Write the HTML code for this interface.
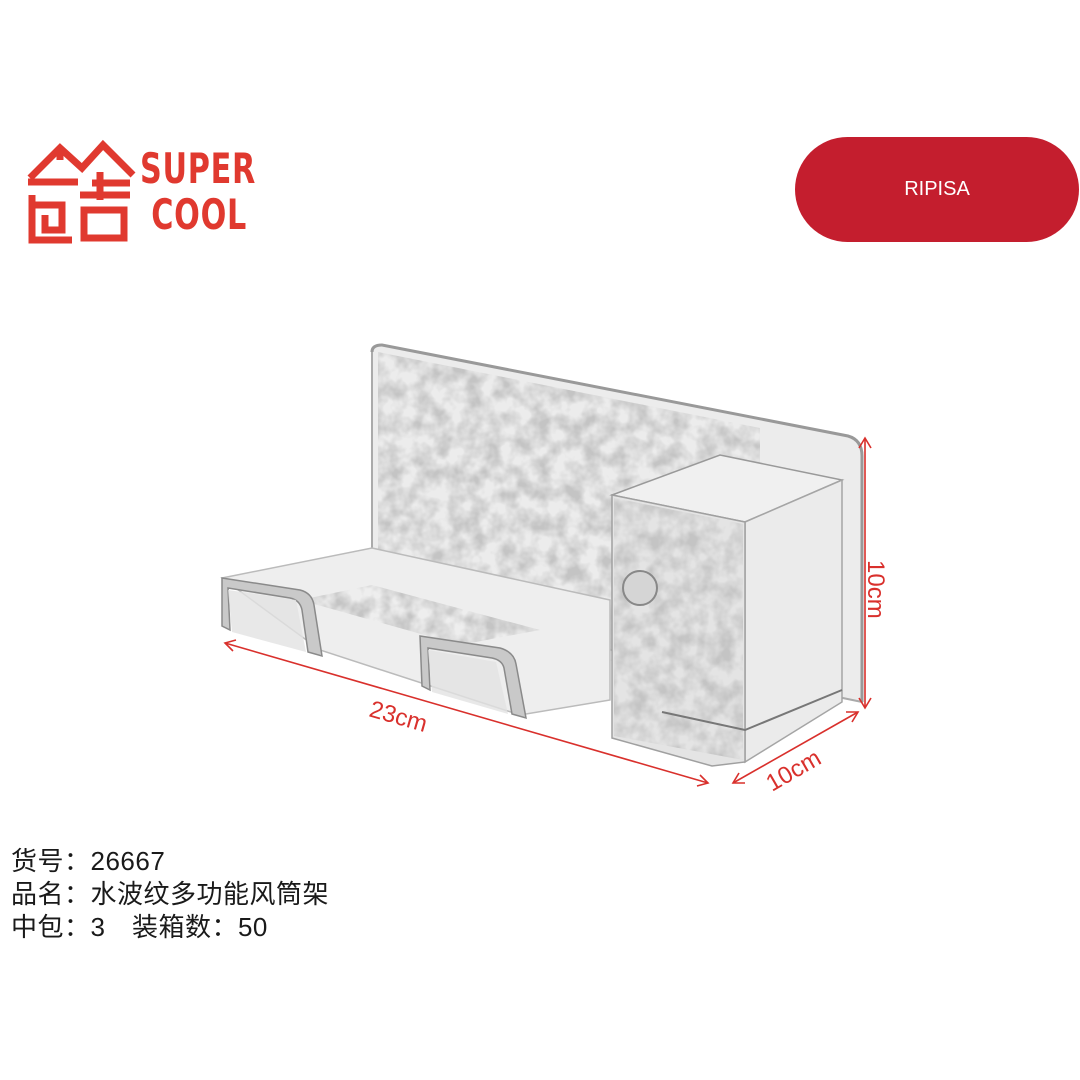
<!DOCTYPE html>
<html><head><meta charset="utf-8"><style>
html,body{margin:0;padding:0;background:#fff}
body{width:1080px;height:1080px;position:relative;overflow:hidden;font-family:"Liberation Sans","Noto Sans CJK SC",sans-serif}
.pill{position:absolute;left:795px;top:137px;width:284px;height:105px;border-radius:53px;background:#c41e2e;color:#fff;font-size:20px;display:flex;align-items:center;justify-content:center}
.info{position:absolute;left:11px;top:845px;font-size:26px;line-height:33px;letter-spacing:0.5px;color:#1a1a1a;font-family:"Liberation Sans","Noto Sans CJK SC",sans-serif}
.logo{position:absolute;left:140px;top:146px;color:#e0392f;font-weight:bold;font-size:42px;line-height:46px;font-family:"DejaVu Sans","Liberation Sans",sans-serif;letter-spacing:1px;transform:scaleX(0.72);transform-origin:left top}
</style></head><body>
<svg width="1080" height="1080" style="position:absolute;left:0;top:0">
<defs>
<filter id="tex" x="0" y="0" width="100%" height="100%">
<feTurbulence type="fractalNoise" baseFrequency="0.06" numOctaves="3" seed="4" result="n"/>
<feColorMatrix type="matrix" values="0 0 0 0 0.55  0 0 0 0 0.55  0 0 0 0 0.55  0 0 0 -2.2 1.5" in="n" result="c"/>
<feComposite in="c" in2="SourceGraphic" operator="in"/>
</filter>
</defs>
<g fill="none" stroke="#e0392f" stroke-width="7" stroke-linejoin="miter">
<path d="M30 178 L60 148 L82 168 L103 145 L133 175"/>
<path d="M60 150 L60 160"/>
<path d="M28 182 L78 182 M92 183 L130 183"/>
<path d="M32 195 L32 240 L72 240 M32 205 L62 205 L62 230 L45 230 L45 215"/>
<path d="M80 195 L130 195 M100 172 L100 200"/>
<path d="M84 210 L124 210 L124 238 L84 238 Z"/>
</g>
<g>
<path d="M372 352 Q372 345 382 345 L848 436 Q862 440 862 456 L862 702 L372 600 Z" fill="#ececec" stroke="#aaa" stroke-width="2"/>
<path d="M378 352 L760 428 L760 700 L378 600 Z" fill="#ddd" filter="url(#tex)"/>
<path d="M372 352 Q372 345 382 345 L848 436 Q862 440 862 456 L862 702" fill="none" stroke="#999" stroke-width="3"/>
<path d="M222 578 L372 548 L610 600 L610 700 L520 715 L320 650 Z" fill="#eeeeee" stroke="#bbb" stroke-width="1.5"/>
<path d="M300 600 L372 585 L540 630 L460 645 Z" fill="#d8d8d8" filter="url(#tex)"/>
<path d="M222 578 L300 590 Q312 593 314 605 L322 656 L308 652 L302 610 Q300 600 290 598 L228 588 L230 630 L222 626 Z" fill="#c9c9c9" stroke="#8a8a8a" stroke-width="1.5"/>
<path d="M228 590 L296 600 L306 652 L232 632 Z" fill="#e2e2e2" opacity="0.8"/>
<path d="M420 636 L500 648 Q514 652 516 664 L526 718 L512 714 L504 668 Q502 660 492 658 L428 648 L430 690 L422 686 Z" fill="#c9c9c9" stroke="#8a8a8a" stroke-width="1.5"/>
<path d="M428 650 L496 662 L508 714 L432 692 Z" fill="#e2e2e2" opacity="0.8"/>
<path d="M612 495 L720 455 L842 480 L745 522 Z" fill="#f0f0f0" stroke="#999" stroke-width="1.5"/>
<path d="M745 522 L842 480 L842 702 L745 762 Z" fill="#ebebeb" stroke="#a5a5a5" stroke-width="1.5"/>
<path d="M612 495 L745 522 L745 762 L712 766 L612 738 Z" fill="#e4e4e4" stroke="#a0a0a0" stroke-width="1.5"/>
<path d="M614 498 L743 524 L743 760 L614 736 Z" fill="#ccc" filter="url(#tex)"/>
<circle cx="640" cy="588" r="17" fill="#d5d5d5" stroke="#888" stroke-width="2"/>
<path d="M662 712 L745 730 L842 690" fill="none" stroke="#777" stroke-width="2"/>
</g>
<g stroke="#d9302c" stroke-width="1.6" fill="none">
<path d="M225 643 L708 783"/>
<path d="M236 640 L225 643 L233 651 M697 786 L708 783 L700 775"/>
<path d="M865 438 L865 708"/>
<path d="M859 448 L865 438 L871 448 M859 698 L865 708 L871 698"/>
<path d="M733 783 L858 712"/>
<path d="M745 783 L733 783 L739 773 M846 712 L858 712 L852 722"/>
</g>
<g fill="#d9302c" font-family="Liberation Sans,sans-serif" font-size="24">
<text x="368" y="716" transform="rotate(16 368 716)">23cm</text>
<text x="868" y="560" transform="rotate(90 868 560)">10cm</text>
<text x="772" y="792" transform="rotate(-30 772 792)">10cm</text>
</g>
</svg>
<div class="logo">SUPER<br>&nbsp;COOL</div>
<div class="pill">RIPISA</div>
<div class="info">货号：26667<br>品名：水波纹多功能风筒架<br>中包：3　装箱数：50</div>
</body></html>
